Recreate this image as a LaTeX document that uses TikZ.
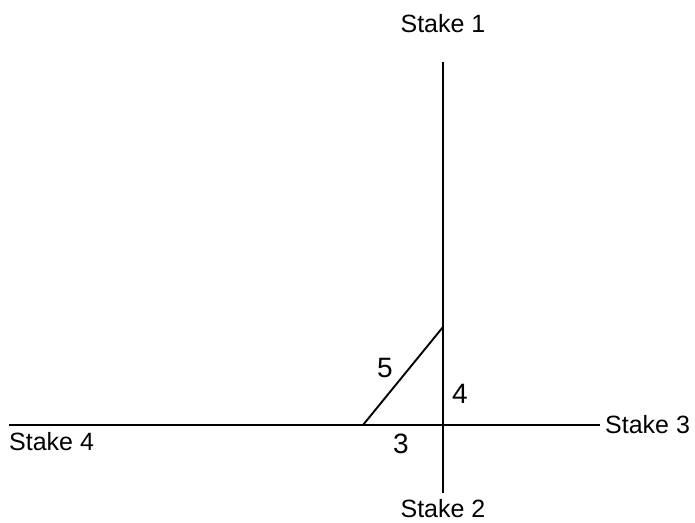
\documentclass[tikz,border=0pt]{standalone}
\usepackage{fontspec}
\setmainfont{Liberation Sans}
\usepackage{tikz}
\usetikzlibrary{positioning}
\tikzset{
  stakeline/.style={draw=black,line width=1.9pt},
  stakelabel/.style={font=\fontsize{25}{28}\selectfont,inner sep=0pt},
  sidelabel/.style={font=\fontsize{28}{32}\selectfont,inner sep=0pt}
}
\begin{document}
\begin{tikzpicture}[x=1pt,y=-1pt]
  \useasboundingbox (0,0) rectangle (695,522);
  % line ends
  \coordinate (north) at (443,62);
  \coordinate (south) at (443,493);
  \coordinate (east) at (600,425);
  \coordinate (west) at (9,425);
  \coordinate (foot) at (363,425);
  \coordinate (mark) at (443,327);

  \node[stakelabel,anchor=base] (stake1) at (443,32) {Stake 1};
  \node[stakelabel,anchor=base] (stake2) at (443,517) {Stake 2};
  \node[stakelabel,anchor=base west] (stake3) at (605,433) {Stake 3};
  \node[stakelabel,anchor=base west] (stake4) at (9,450) {Stake 4};

  \draw[stakeline] (north)--(south);
  \draw[stakeline] (west)--(east);
  \draw[stakeline] (foot)--(mark);

  \node[sidelabel,anchor=base] (side5) at (385,377) {5};
  \node[sidelabel,anchor=base] (side4) at (460,403) {4};
  \node[sidelabel,anchor=base] (side3) at (401,453) {3};
\end{tikzpicture}
\end{document}
